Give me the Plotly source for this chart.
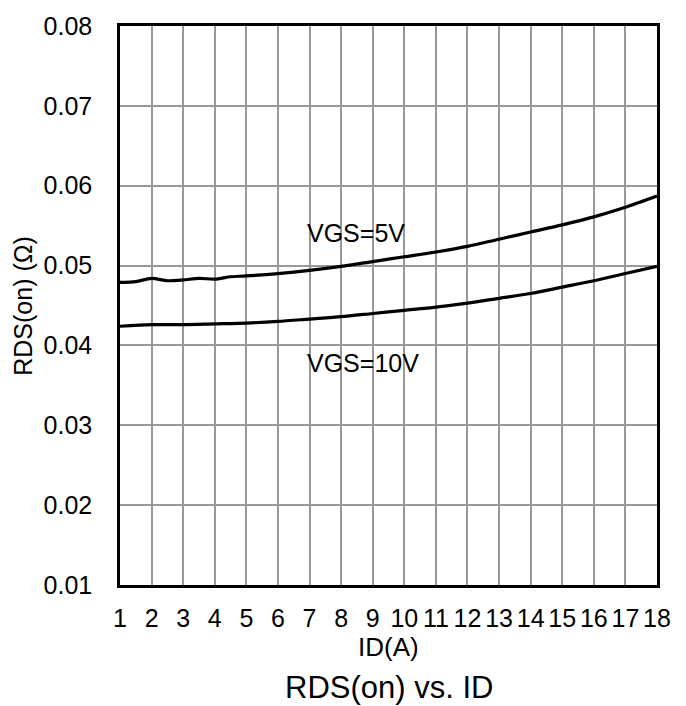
import plotly.graph_objects as go

# Data
id_5v = [1, 1.5, 2, 2.5, 3, 3.5, 4, 4.5, 5, 6, 7, 8, 9, 10, 11, 12, 13, 14, 15, 16, 17, 18]
rds_5v = [0.0479, 0.0480, 0.0484, 0.0481, 0.0482, 0.0484, 0.0483, 0.0486, 0.0487,
          0.0490, 0.0494, 0.0499, 0.0505, 0.0511, 0.0517, 0.0524, 0.0533, 0.0542,
          0.0551, 0.0561, 0.0573, 0.0587]
id_10v = [1, 2, 3, 4, 5, 6, 7, 8, 9, 10, 11, 12, 13, 14, 15, 16, 17, 18]
rds_10v = [0.0424, 0.0426, 0.0426, 0.0427, 0.0428, 0.0430, 0.0433, 0.0436, 0.0440,
           0.0444, 0.0448, 0.0453, 0.0459, 0.0465, 0.0473, 0.0481, 0.0490, 0.0499]
x_ticks = list(range(1, 19))
y_ticks = [0.01, 0.02, 0.03, 0.04, 0.05, 0.06, 0.07, 0.08]
y_tick_text = ["0.01", "0.02", "0.03", "0.04", "0.05", "0.06", "0.07", "0.08"]

FONT = "Liberation Sans, Arial, sans-serif"

fig = go.Figure()
fig.add_trace(go.Scatter(x=id_5v, y=rds_5v, mode="lines",
                         line=dict(color="black", width=3.2, shape="spline", smoothing=0.8),
                         showlegend=False, hoverinfo="skip"))
fig.add_trace(go.Scatter(x=id_10v, y=rds_10v, mode="lines",
                         line=dict(color="black", width=3.2, shape="spline", smoothing=0.8),
                         showlegend=False, hoverinfo="skip"))

fig.update_layout(
    width=686, height=706,
    margin=dict(l=120, r=28.5, t=18, b=121, pad=0),
    paper_bgcolor="white", plot_bgcolor="white",
    font=dict(family=FONT, color="black", size=25),
    xaxis=dict(range=[1, 18], tickvals=x_ticks, ticktext=[str(v) for v in x_ticks],
               showgrid=True, gridcolor="#999999", gridwidth=2,
               showline=True, linecolor="black", linewidth=2.5, mirror=True,
               ticks="", zeroline=False, ticklabelstandoff=9,
               tickfont=dict(size=25, family=FONT, color="black")),
    yaxis=dict(range=[0.01, 0.08], tickvals=y_ticks, ticktext=y_tick_text,
               showgrid=True, gridcolor="#999999", gridwidth=2,
               showline=True, linecolor="black", linewidth=2.5, mirror=True,
               ticks="", zeroline=False, ticklabelstandoff=20,
               tickfont=dict(size=25, family=FONT, color="black")),
    annotations=[
        dict(text="VGS=5V", x=6.85, y=0.0541, xref="x", yref="y",
             xanchor="left", yanchor="middle", showarrow=False,
             font=dict(size=25, family=FONT, color="black")),
        dict(text="VGS=10V", x=6.85, y=0.0378, xref="x", yref="y",
             xanchor="left", yanchor="middle", showarrow=False,
             font=dict(size=25, family=FONT, color="black")),
        dict(text="ID(A)", x=0.5, y=-0.111, xref="paper", yref="paper",
             xanchor="center", yanchor="middle", showarrow=False,
             font=dict(size=26, family=FONT, color="black")),
        dict(text="RDS(on) vs. ID", x=0.5, y=-0.183, xref="paper", yref="paper",
             xanchor="center", yanchor="middle", showarrow=False,
             font=dict(size=31, family=FONT, color="black")),
        dict(text="RDS(on) (Ω)", x=-0.182, y=0.5, xref="paper", yref="paper",
             xanchor="center", yanchor="middle", showarrow=False, textangle=-90,
             font=dict(size=25, family=FONT, color="black")),
    ],
)

fig.write_html("out.html")
